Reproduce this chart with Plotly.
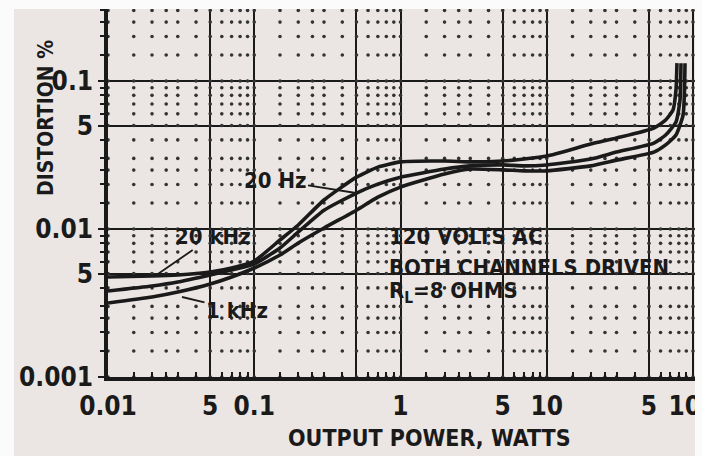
import numpy as np
import plotly.graph_objects as go

# ---------------- data ----------------
power_common = [0.01, 0.02, 0.03, 0.05, 0.07, 0.1, 0.15, 0.2, 0.3, 0.5, 0.7,
                1, 2, 3, 5, 7, 10, 20, 30]

thd_20khz = [0.00474, 0.00481, 0.00489, 0.00512, 0.00545, 0.00608, 0.00843,
             0.01064, 0.0157, 0.0224, 0.0262, 0.0284, 0.0288, 0.0284, 0.0288,
             0.0297, 0.0311, 0.0375, 0.0412]
tail_20khz_w = [54, 65, 73, 76.5, 77.7]
tail_20khz = [0.0481, 0.0545, 0.0637, 0.087, 0.132]

thd_20hz = [0.00381, 0.00412, 0.00438, 0.00489, 0.00528, 0.00580, 0.00744,
            0.00955, 0.0134, 0.0175, 0.0201, 0.0224, 0.0254, 0.0267, 0.0271,
            0.0267, 0.0271, 0.0297, 0.0331]
tail_20hz_w = [54, 65, 76.5, 81.5, 82.8]
tail_20hz = [0.0381, 0.0432, 0.0528, 0.0744, 0.132]

thd_1khz = [0.00316, 0.00347, 0.00375, 0.00425, 0.00474, 0.00545, 0.00667,
            0.00804, 0.01016, 0.0134, 0.0164, 0.0192, 0.0235, 0.0254, 0.0251,
            0.0247, 0.0247, 0.0267, 0.0292]
tail_1khz_w = [54, 65, 76.5, 85.5, 88.2]
tail_1khz = [0.0331, 0.0370, 0.0432, 0.0588, 0.132]

x_tick_vals = [0.01, 0.05, 0.1, 0.5, 1, 5, 10, 50, 100]
x_tick_text = ["0.01", "5", "0.1", "", "1", "5", "10", "5", "100"]
y_tick_vals = [0.001, 0.005, 0.01, 0.05, 0.1]
y_tick_text = ["0.001", "5", "0.01", "5", "0.1"]

minor_mult = [1.5, 2, 2.5, 3, 4, 6, 7, 8, 9]
x_decades = [0.01, 0.1, 1, 10, 100]
y_decades = [0.001, 0.01, 0.1]

# ---------------- styling ----------------
PAPER = "#ebe6e3"
INK = "#1a1a1a"
FONT = "DejaVu Sans Condensed, Liberation Sans Narrow, Roboto Condensed, Arial Narrow, sans-serif"

W, H = 702, 456
L, B = 108, 79
plot_w, plot_h = W - L, H - B
X_DEC = 146.25
Y_DEC = 148.0
x_range = [-2, -2 + plot_w / X_DEC]
y_range = [-3, -3 + plot_h / Y_DEC]

x_minor = [d * m for d in x_decades for m in minor_mult]
y_minor = [d * m for d in y_decades for m in minor_mult]
x_all = sorted(set(x_minor + x_tick_vals))
y_all = sorted(set(y_minor + y_tick_vals))
gx, gy = np.meshgrid(x_all, y_all)

fig = go.Figure()

# dotted grid (intersections of minor rulings)
fig.add_trace(go.Scatter(
    x=gx.ravel(), y=gy.ravel(), mode="markers",
    marker=dict(size=3.6, color="#333333", symbol="circle"),
    hoverinfo="skip", showlegend=False))

curves = [
    ("20 kHz", power_common + tail_20khz_w, thd_20khz + tail_20khz),
    ("20 Hz", power_common + tail_20hz_w, thd_20hz + tail_20hz),
    ("1 kHz", power_common + tail_1khz_w, thd_1khz + tail_1khz),
]
for name, xs, ys in curves:
    fig.add_trace(go.Scatter(
        x=xs, y=ys, mode="lines", name=name,
        line=dict(color=INK, width=3.6, shape="spline", smoothing=0.5),
        showlegend=False))

tickfont = dict(family=FONT, size=26, color=INK, weight="bold")

fig.update_xaxes(
    type="log", range=x_range, tickmode="array",
    tickvals=x_tick_vals, ticktext=x_tick_text, tickfont=tickfont,
    showgrid=True, gridcolor=INK, gridwidth=1.8,
    showline=True, linecolor=INK, linewidth=3.5,
    ticks="", ticklabelstandoff=3, ticklabeloverflow="allow", zeroline=False,
    automargin=False,
    minor=dict(tickvals=x_minor, ticks="inside", ticklen=5,
               tickcolor=INK, tickwidth=1.5, showgrid=False),
)
fig.update_yaxes(
    type="log", range=y_range, tickmode="array",
    tickvals=y_tick_vals, ticktext=y_tick_text, tickfont=tickfont,
    showgrid=True, gridcolor=INK, gridwidth=1.8,
    showline=True, linecolor=INK, linewidth=3.5,
    ticks="outside", ticklen=6, tickwidth=2, tickcolor=INK, zeroline=False,
    automargin=False,
    minor=dict(tickvals=y_minor, ticks="outside", ticklen=4,
               tickcolor=INK, tickwidth=1.5, showgrid=False),
)


def px_x(px):
    return (px - L) / plot_w


def px_y(py):
    return (plot_h - py) / plot_h


def lx(px):
    return -2 + (px - L) / X_DEC


def ly(py):
    return -3 + (plot_h - py) / Y_DEC


ann = []
# axis titles
ann.append(dict(text="DISTORTION %", xref="paper", yref="paper",
                x=px_x(46), y=px_y(118), xanchor="center", yanchor="middle",
                textangle=-90, showarrow=False,
                font=dict(family=FONT, size=21, color=INK, weight="bold")))
ann.append(dict(text="OUTPUT POWER, WATTS", xref="paper", yref="paper",
                x=px_x(429), y=px_y(438), xanchor="center", yanchor="middle",
                showarrow=False,
                font=dict(family=FONT, size=23, color=INK, weight="bold")))
# condition block
for text, py in [("120 VOLTS AC", 236), ("BOTH CHANNELS DRIVEN", 267),
                 ("R<sub>L</sub>=8 OHMS", 292)]:
    ann.append(dict(text=text, xref="paper", yref="paper", x=px_x(387),
                    y=px_y(py), xanchor="left", yanchor="middle",
                    showarrow=False,
                    font=dict(family=FONT, size=22, color=INK, weight="bold")))
# curve labels with leaders
for text, tip, ctr in [("20 Hz", (356, 193), (275, 180)),
                       ("20 kHz", (155, 276), (213, 236)),
                       ("1 kHz", (182, 297), (237, 310))]:
    ann.append(dict(text=text, x=lx(tip[0]), y=ly(tip[1]), xref="x", yref="y",
                    ax=ctr[0] - tip[0], ay=ctr[1] - tip[1], showarrow=True,
                    arrowhead=0, arrowwidth=1.8, arrowcolor=INK,
                    font=dict(family=FONT, size=22, color=INK, weight="bold")))

# white scan borders
WHITE = "#fbfbfb"
shapes = [
    dict(type="rect", xref="paper", yref="paper", x0=px_x(0), x1=px_x(14),
         y0=px_y(H), y1=px_y(0), fillcolor=WHITE, line=dict(width=0), layer="above"),
    dict(type="rect", xref="paper", yref="paper", x0=px_x(0), x1=px_x(W),
         y0=px_y(9), y1=px_y(0), fillcolor=WHITE, line=dict(width=0), layer="above"),
    dict(type="rect", xref="paper", yref="paper", x0=px_x(695), x1=px_x(W),
         y0=px_y(H), y1=px_y(0), fillcolor=WHITE, line=dict(width=0), layer="above"),
]

fig.update_layout(
    width=W, height=H, autosize=False,
    margin=dict(l=L, r=0, t=0, b=B, pad=0),
    paper_bgcolor=PAPER, plot_bgcolor=PAPER,
    annotations=ann, shapes=shapes, showlegend=False,
)

post = (
    "document.documentElement.style.margin='0';"
    "document.documentElement.style.overflow='hidden';"
    "document.body.style.margin='0';document.body.style.padding='0';"
    "document.body.style.overflow='hidden';"
    "var d=document.getElementsByClassName('plotly-graph-div')[0];"
    "d.style.position='fixed';d.style.left='0px';d.style.top='0px';"
)

fig.write_html("out.html",
               config={"displayModeBar": False, "responsive": False},
               post_script=post)
